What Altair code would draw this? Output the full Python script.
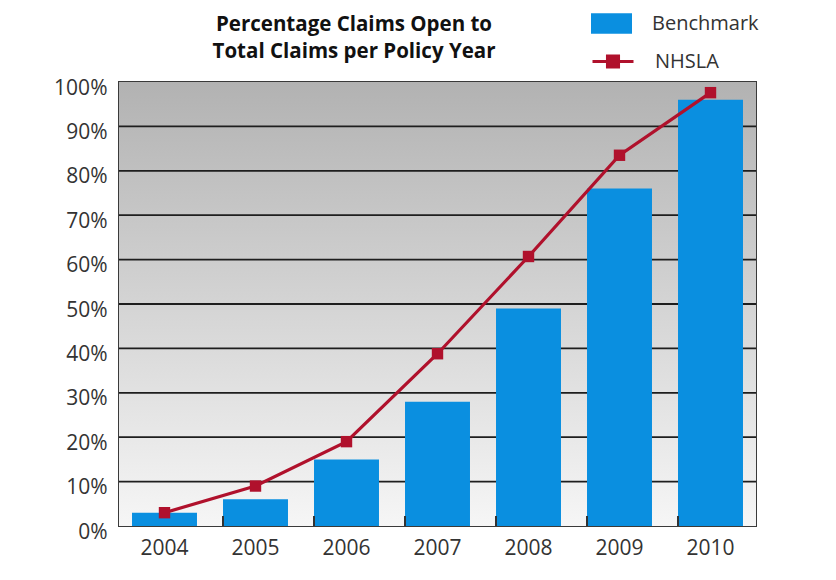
import altair as alt
import pandas as pd

years = ["2004", "2005", "2006", "2007", "2008", "2009", "2010"]
benchmark = [3, 6, 15, 28, 49, 76, 96]
nhsla = [3, 9, 19, 38.8, 60.7, 83.5, 97.6]
y_ticks = [0, 10, 20, 30, 40, 50, 60, 70, 80, 90, 100]
grid_values = [10, 20, 30, 40, 50, 60, 70, 80, 90]
title_lines = ["Percentage Claims Open to", "Total Claims per Policy Year"]

W, H = 637, 444
BLUE = "#0a8fe0"
RED = "#b0112c"
FONT = "Open Sans"
TXT = "#333333"

bars_df = pd.DataFrame({"year": years, "value": benchmark, "series": "Benchmark"})
line_df = pd.DataFrame({"year": years, "value": nhsla, "series": "NHSLA"})
grid_df = pd.DataFrame({"value": grid_values})
ticks_df = pd.DataFrame({"year": years[1:]})
bg_df = pd.DataFrame({"k": [0]})

yscale = alt.Scale(domain=[0, 100])
xscale = alt.Scale(paddingInner=0.286, paddingOuter=0.143)

x_axis = alt.Axis(title=None, domain=False, ticks=False, tickSize=0, labelAngle=0,
                  labelFont=FONT, labelFontSize=21, labelColor=TXT, labelPadding=11)
y_axis = alt.Axis(title=None, values=y_ticks, labelExpr="datum.value + '%'",
                  grid=False, domain=False, ticks=False, tickSize=0,
                  labelFont=FONT, labelFontSize=21, labelColor=TXT,
                  labelPadding=12, labelOffset=6)

X = alt.X("year:N", scale=xscale, sort=years, axis=x_axis)
Y = alt.Y("value:Q", scale=yscale, axis=y_axis)

bg = alt.Chart(bg_df).mark_rect(
    color=alt.LinearGradient(
        gradient="linear",
        stops=[alt.GradientStop(color="#b2b2b2", offset=0),
               alt.GradientStop(color="#f6f6f6", offset=1)],
        x1=0, x2=0, y1=0, y2=1,
    )
).encode(x=alt.value(0), x2=alt.value("width"), y=alt.value(0), y2=alt.value("height"))

grid = alt.Chart(grid_df).mark_rule(color="#1e1e1e", strokeWidth=1.8).encode(y=Y)

bars = alt.Chart(bars_df).mark_bar().encode(
    x=X, y=Y,
    fill=alt.Fill("series:N", scale=alt.Scale(domain=["Benchmark"], range=[BLUE]),
                  legend=alt.Legend(title=None, orient="none", legendX=472, legendY=-79,
                                    symbolType="M-1,-0.5H1V0.5H-1Z", symbolSize=1681,
                                    symbolStrokeWidth=0, padding=0, labelOffset=20,
                                    labelFont=FONT, labelFontSize=20, labelColor=TXT)),
)

band_ticks = alt.Chart(ticks_df).mark_rule(color="#333333", strokeWidth=2).encode(
    x=alt.X("year:N", bandPosition=0, scale=xscale, sort=years, axis=x_axis),
    y=alt.value(H - 10), y2=alt.value(H),
)

line = alt.Chart(line_df).mark_line(strokeWidth=3.2).encode(
    x=X, y=Y,
    stroke=alt.Stroke("series:N", scale=alt.Scale(domain=["NHSLA"], range=[RED]),
                      legend=alt.Legend(title=None, orient="none", legendX=472, legendY=-42.5,
                                        symbolType="M-1,0H1M-0.27,-0.27H0.27V0.27H-0.27Z",
                                        symbolSize=1681, symbolStrokeWidth=3,
                                        symbolFillColor=RED, padding=0, labelOffset=20,
                                        labelFont=FONT, labelFontSize=20, labelColor=TXT)),
)

pts = alt.Chart(line_df).mark_square(size=130, color=RED, opacity=1).encode(x=X, y=Y)

chart = alt.layer(bg, grid, bars, band_ticks, line, pts).resolve_legend(
    fill="independent", stroke="independent"
).properties(
    width=W, height=H,
    autosize=alt.AutoSizeParams(type="none"),
    padding={"left": 111, "top": 74, "right": 60, "bottom": 40},
    title=alt.Title(title_lines, anchor="start", align="center", dx=235, dy=69, frame="group",
                    font=FONT, fontSize=20.5, fontWeight="bold", color="#111111",
                    lineHeight=27, offset=10),
).configure_view(stroke="#3a3a3a", strokeWidth=2)

chart.save("out.html", embed_options={"renderer": "svg", "actions": False})
